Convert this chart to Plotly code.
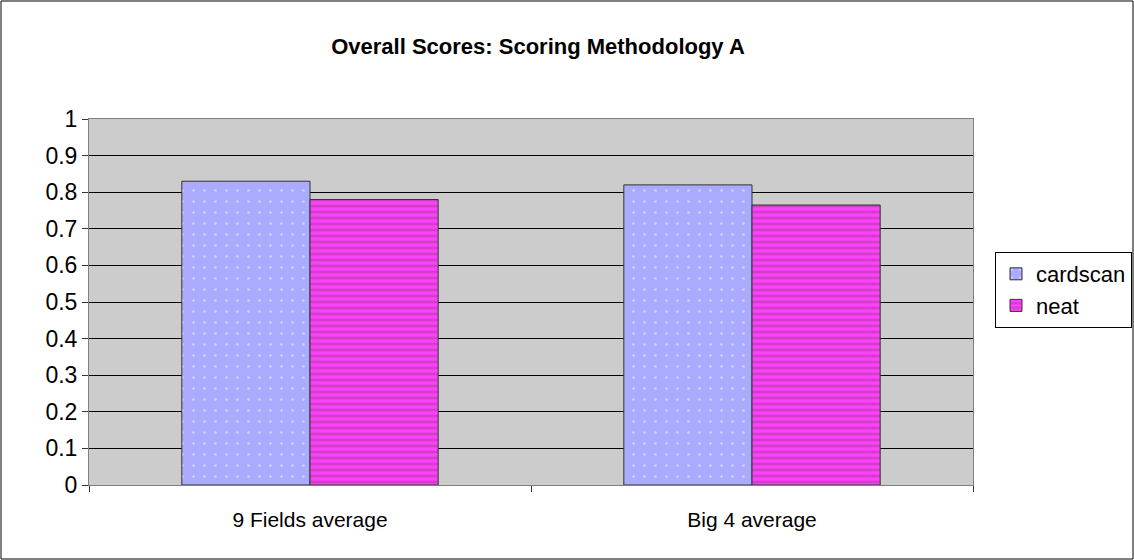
import plotly.graph_objects as go

categories = ["9 Fields average", "Big 4 average"]
cardscan = [0.83, 0.82]
neat = [0.78, 0.765]
y_ticks = [0, 0.1, 0.2, 0.3, 0.4, 0.5, 0.6, 0.7, 0.8, 0.9, 1]
y_tick_labels = ["0", "0.1", "0.2", "0.3", "0.4", "0.5", "0.6", "0.7", "0.8", "0.9", "1"]

W, H = 1134, 560
ml, mr, mt, mb = 89, 161, 119, 75
pw, ph = W - ml - mr, H - mt - mb

fig = go.Figure()
fig.add_trace(go.Bar(
    x=categories, y=cardscan, name="cardscan",
    marker=dict(color="#AAAAFF", line=dict(color="#333333", width=1),
                pattern=dict(shape=".", fgcolor="#FFFFFF", bgcolor="#AAAAFF",
                             size=11, solidity=0.04)),
))
fig.add_trace(go.Bar(
    x=categories, y=neat, name="neat",
    marker=dict(color="#FF33FF", line=dict(color="#333333", width=1),
                pattern=dict(shape="-", fgcolor="#A0408C", bgcolor="#FF40FF",
                             size=6, solidity=0.45)),
))

fig.update_layout(
    width=W, height=H,
    margin=dict(l=ml, r=mr, t=mt, b=mb, autoexpand=False),
    paper_bgcolor="white",
    plot_bgcolor="#CCCCCC",
    barmode="group",
    bargap=0.42,
    bargroupgap=0,
    font=dict(family="Arial, Liberation Sans, sans-serif", color="black"),
    title=dict(text="<b>Overall Scores: Scoring Methodology A</b>",
               x=538 / W, xanchor="center", y=1 - 46 / H, yanchor="middle",
               font=dict(size=22)),
    legend=dict(x=(995 - ml) / pw, xanchor="left", y=(H - mb - 252) / ph, yanchor="top",
                bordercolor="black", borderwidth=1, bgcolor="white",
                font=dict(size=22), tracegroupgap=0, itemwidth=30),
    xaxis=dict(showline=True, linecolor="#808080", linewidth=1, mirror=True,
               ticks="outside", tickson="boundaries", ticklen=6, tickcolor="#333333",
               tickfont=dict(size=21), showgrid=False, ticklabelstandoff=16),
    yaxis=dict(range=[0, 1], tickvals=y_ticks, ticktext=y_tick_labels,
               showline=True, linecolor="#808080", linewidth=1, mirror=True,
               ticks="outside", ticklen=6, tickcolor="#333333",
               gridcolor="#000000", gridwidth=1, tickfont=dict(size=23),
               zeroline=False),
    shapes=[dict(type="rect", xref="paper", yref="paper",
                 x0=(1 - ml) / pw, x1=(W - 1 - ml) / pw,
                 y0=-(mb - 1) / ph, y1=1 + (mt - 1) / ph,
                 line=dict(color="black", width=1), fillcolor="rgba(0,0,0,0)", layer="below")],
)

fig.write_html("out.html", config={"displayModeBar": False},
               post_script="document.body.style.margin='0';document.body.style.overflow='hidden';")
